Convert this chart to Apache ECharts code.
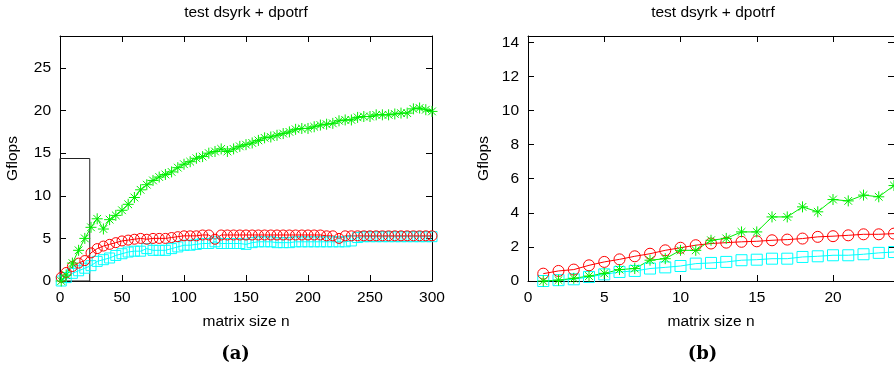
<!DOCTYPE html>
<html><head><meta charset="utf-8">
<script src="https://cdn.jsdelivr.net/npm/echarts@6/dist/echarts.min.js"></script>
<style>html,body{margin:0;padding:0;background:#fff}#c{width:894px;height:372px}</style>
</head><body><div id="c"></div>
<script>
const titleText = 'test dsyrk + dpotrf';
const xName = 'matrix size n';
const yName = 'Gflops';
const captionA = '(a)';
const captionB = '(b)';

const leftXMax = 300, leftYMax = 28.75;
const zoomXMax = 24, zoomYMax = 14.375;

const leftN = [1,5,10,15,20,25,30,35,40,45,50,55,60,65,70,75,80,85,90,95,100,105,110,115,120,125,130,135,140,145,150,155,160,165,170,175,180,185,190,195,200,205,210,215,220,225,230,235,240,245,250,255,260,265,270,275,280,285,290,295,300];
const leftCyan = [0.0,0.4,0.9,1.2,1.5,1.8,2.3,2.5,2.7,3.0,3.2,3.4,3.5,3.5,3.8,3.6,3.6,3.6,3.8,4.0,4.2,4.2,4.3,4.4,4.4,4.6,4.4,4.4,4.4,4.4,4.3,4.5,4.6,4.6,4.6,4.5,4.5,4.5,4.6,4.6,4.6,4.6,4.6,4.6,4.6,4.6,4.6,4.7,5.1,5.2,5.2,5.2,5.2,5.2,5.2,5.2,5.2,5.2,5.2,5.2,5.2];
const leftRed = [0.43,1.0,1.7,2.1,2.4,3.3,3.8,4.1,4.3,4.5,4.7,4.8,4.9,5.0,4.9,5.0,5.0,5.0,5.1,5.2,5.3,5.3,5.3,5.4,5.4,4.9,5.4,5.4,5.4,5.4,5.4,5.4,5.4,5.4,5.4,5.4,5.4,5.4,5.4,5.4,5.4,5.4,5.4,5.3,5.3,5.0,5.3,5.3,5.3,5.3,5.3,5.3,5.3,5.3,5.3,5.3,5.3,5.3,5.3,5.3,5.3];
const leftGreen = [0.0,0.7,2.1,3.6,5.0,6.3,7.3,6.1,7.2,7.7,8.3,9.0,9.8,10.7,11.3,11.8,12.2,12.5,12.8,13.3,13.7,14.0,14.4,14.6,15.0,15.2,15.5,15.2,15.5,15.8,16.0,16.2,16.5,16.8,16.9,17.1,17.3,17.5,17.8,17.9,17.9,18.1,18.3,18.4,18.5,18.8,18.9,18.9,19.2,19.3,19.3,19.5,19.5,19.5,19.6,19.7,19.7,20.2,20.3,20.1,19.9];

const rightN = [1,2,3,4,5,6,7,8,9,10,11,12,13,14,15,16,17,18,19,20,21,22,23,24];
const rightCyan = [0.0,0.05,0.1,0.24,0.39,0.53,0.59,0.73,0.8,0.88,1.02,1.06,1.12,1.22,1.25,1.31,1.31,1.41,1.45,1.51,1.51,1.57,1.65,1.7];
const rightRed = [0.43,0.59,0.67,0.92,1.12,1.27,1.45,1.6,1.8,1.95,2.1,2.2,2.25,2.3,2.33,2.39,2.43,2.49,2.59,2.63,2.68,2.74,2.74,2.78];
const rightGreen = [0.0,0.05,0.16,0.29,0.45,0.67,0.73,1.22,1.31,1.8,1.8,2.39,2.5,2.88,2.88,3.76,3.76,4.35,4.06,4.78,4.7,5.04,4.94,5.6];

const FONT = 'Liberation Sans';
const FS = 15.5;
const RED = '#ff0000', GREEN = '#00ee00', CYAN = '#00ffff';
const STAR = 'path://M10,0L10,20M0,10L20,10M3,3L17,17M3,17L17,3';

function pairs(xs, ys) { return xs.map((x, i) => [x, ys[i]]); }

function xAx(grid, max, interval, pos, labels) {
  return {
    type: 'value', gridIndex: grid, min: 0, max: max, interval: interval, position: pos,
    axisLine: { show: true, onZero: false, lineStyle: { color: '#000', width: 1 } },
    axisTick: { show: true, inside: true, length: 6, lineStyle: { color: '#000' } },
    axisLabel: { show: labels, margin: 9, fontSize: FS, color: '#000', fontFamily: FONT, showMaxLabel: max % interval === 0 },
    splitLine: { show: false },
    name: labels ? xName : '', nameLocation: 'middle', nameGap: 33,
    nameTextStyle: { fontSize: FS, color: '#000', fontFamily: FONT }
  };
}
function yAx(grid, max, interval, pos, labels, gap) {
  return {
    type: 'value', gridIndex: grid, min: 0, max: max, interval: interval, position: pos,
    axisLine: { show: true, onZero: false, lineStyle: { color: '#000', width: 1 } },
    axisTick: { show: true, inside: true, length: 6, lineStyle: { color: '#000' } },
    axisLabel: { show: labels, margin: 9, fontSize: FS, color: '#000', fontFamily: FONT, showMaxLabel: false },
    splitLine: { show: false },
    name: labels ? yName : '', nameLocation: 'middle', nameGap: gap || 39,
    nameTextStyle: { fontSize: FS, color: '#000', fontFamily: FONT }
  };
}
function ser(xi, yi, data, color, symbol, size, extra) {
  return Object.assign({
    type: 'line', xAxisIndex: xi, yAxisIndex: yi, data: data,
    symbol: symbol, symbolSize: size, showAllSymbol: true,
    lineStyle: { color: color, width: 1 },
    itemStyle: { color: 'rgba(0,0,0,0)', borderColor: color, borderWidth: 1 },
    emphasis: { disabled: true }, clip: false
  }, extra || {});
}

const chart = echarts.init(document.getElementById('c'), null, { renderer: 'canvas' });
chart.setOption({
  animation: false,
  backgroundColor: '#fff',
  grid: [
    { left: 60, top: 36, width: 372, height: 245 },
    { left: 528, top: 36, width: 372, height: 245 }
  ],
  xAxis: [
    xAx(0, leftXMax, 50, 'bottom', true),
    xAx(0, leftXMax, 50, 'top', false),
    xAx(1, zoomXMax, 5, 'bottom', true),
    xAx(1, zoomXMax, 5, 'top', false)
  ],
  yAxis: [
    yAx(0, leftYMax, 5, 'left', true, 39),
    yAx(0, leftYMax, 5, 'right', false),
    yAx(1, zoomYMax, 2, 'left', true, 36),
    yAx(1, zoomYMax, 2, 'right', false)
  ],
  graphic: [
    { type: 'text', x: 246, y: 13, style: { text: titleText, font: FS + 'px "Liberation Sans"', fill: '#000', align: 'center', verticalAlign: 'middle' } },
    { type: 'text', x: 713, y: 13, style: { text: titleText, font: FS + 'px "Liberation Sans"', fill: '#000', align: 'center', verticalAlign: 'middle' } },
    { type: 'text', x: 235.5, y: 354, style: { text: captionA, font: 'bold 18px "DejaVu Serif"', fill: '#000', align: 'center', verticalAlign: 'middle' } },
    { type: 'text', x: 702.5, y: 354, style: { text: captionB, font: 'bold 18px "DejaVu Serif"', fill: '#000', align: 'center', verticalAlign: 'middle' } }
  ],
  series: [
    ser(0, 0, pairs(leftN, leftCyan), CYAN, 'rect', 10, {
      markArea: {
        silent: true,
        itemStyle: { color: 'rgba(0,0,0,0)', borderColor: '#222', borderWidth: 1 },
        data: [[{ coord: [0, 0] }, { coord: [zoomXMax, zoomYMax] }]]
      }
    }),
    ser(0, 0, pairs(leftN, leftRed), RED, 'circle', 10),
    ser(0, 0, pairs(leftN, leftGreen), GREEN, STAR, 11),
    ser(2, 2, pairs(rightN, rightCyan), CYAN, 'rect', 11),
    ser(2, 2, pairs(rightN, rightRed), RED, 'circle', 11),
    ser(2, 2, pairs(rightN, rightGreen), GREEN, STAR, 11)
  ]
});
</script></body></html>
